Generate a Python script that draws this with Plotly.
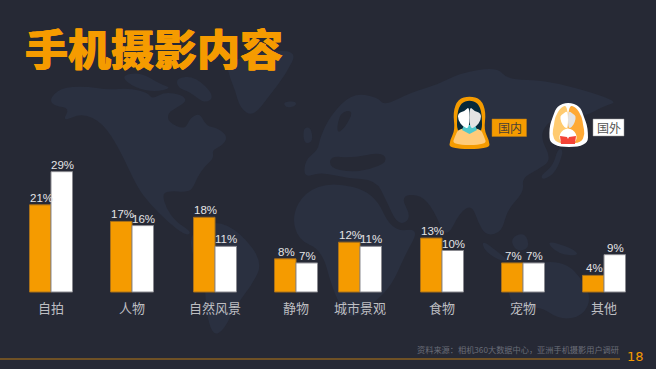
import plotly.graph_objects as go

categories = ["自拍", "人物", "自然风景", "静物", "城市景观", "食物", "宠物", "其他"]
domestic = [21, 17, 18, 8, 12, 13, 7, 4]
foreign = [29, 16, 11, 7, 11, 10, 7, 9]

W, H = 656, 369
BG, LAND = "#262935", "#2a3040"
ORANGE = "#F59B00"
PX_X0, PX_STEP, PX_BASE, PX_PER_UNIT = 51, 79, 292, 4.15
BAR_W = 21.5 / PX_STEP
# The reference's groups are not evenly spaced: per-group nudge in pixels.
nudge_px = [0, 2, 6, 8, -7, -4, -2, 0]
nudge = [n / PX_STEP for n in nudge_px]


def px(x, y):
    return x / W, 1 - y / H


def smooth(points):
    """Closed smooth outline through midpoints, in paper coordinates."""
    pts = [px(*p) for p in points]
    n = len(pts)
    mid = lambda a, b: ((a[0] + b[0]) / 2, (a[1] + b[1]) / 2)
    s = mid(pts[-1], pts[0])
    d = f"M{s[0]:.5f},{s[1]:.5f}"
    for i in range(n):
        m = mid(pts[i], pts[(i + 1) % n])
        d += f" Q{pts[i][0]:.5f},{pts[i][1]:.5f} {m[0]:.5f},{m[1]:.5f}"
    return d + " Z"


def poly(points):
    pts = [px(*p) for p in points]
    return "M" + " L".join(f"{a:.5f},{b:.5f}" for a, b in pts) + " Z"


def shape(d, fill, line=None, lw=0, layer="below"):
    return dict(type="path", xref="paper", yref="paper", path=d, fillcolor=fill,
                line=dict(color=line or fill, width=lw), layer=layer)


land = [
    # North and Central America
    [(49, 100), (60, 88), (85, 86), (108, 90), (130, 88), (148, 93), (152, 99), (165, 92), (182, 95), (187, 101),
     (176, 108), (168, 113), (168, 122), (185, 130), (190, 118), (200, 113), (206, 126), (218, 128), (228, 137),
     (222, 146), (212, 150), (214, 158), (205, 166), (198, 176), (192, 190), (184, 192), (172, 191), (162, 193),
     (166, 208), (176, 222), (192, 232), (186, 236), (168, 222), (150, 204), (137, 187), (120, 150), (103, 123),
     (82, 113), (62, 122), (70, 108), (55, 106)],
    # Greenland
    [(226, 62), (262, 52), (298, 50), (286, 74), (270, 95), (253, 117), (240, 108), (235, 90), (230, 78)],
    # Arctic islands
    [(120, 76), (140, 72), (160, 84), (172, 88), (155, 92), (135, 88)],
    [(176, 78), (195, 76), (215, 96), (205, 104), (190, 92), (178, 88)],
    [(283, 102), (296, 101), (296, 106), (286, 108)],
    # South America
    [(190, 232), (215, 220), (240, 232), (263, 262), (252, 285), (236, 305), (224, 330), (213, 336), (206, 312),
     (205, 280), (192, 256)],
    # Africa
    [(292, 215), (305, 192), (332, 182), (374, 192), (392, 232), (420, 228), (405, 255), (392, 285), (372, 305),
     (348, 322), (332, 288), (322, 250), (298, 240)],
    # Eurasia
    [(320, 138), (330, 116), (352, 93), (378, 97), (384, 106), (412, 92), (437, 85), (460, 73), (497, 67), (508, 80),
     (548, 80), (620, 101), (604, 106), (584, 117), (560, 117), (547, 123), (540, 137), (552, 160), (537, 170),
     (522, 178), (524, 192), (507, 210), (502, 232), (486, 236), (478, 222), (472, 205), (460, 212), (446, 240),
     (434, 210), (420, 194), (400, 196), (412, 218), (398, 226), (386, 200), (376, 180), (346, 178), (320, 172),
     (304, 178), (305, 160), (318, 150)],
    # Britain, Japan, Indonesia, Australia
    [(303, 128), (311, 127), (313, 142), (304, 144)],
    [(558, 148), (564, 150), (556, 172), (544, 180), (540, 176), (553, 166)],
    [(482, 240), (498, 252), (510, 262), (498, 260), (484, 250)],
    [(510, 238), (525, 232), (530, 248), (516, 252)],
    [(545, 240), (572, 248), (580, 256), (558, 254)],
    [(505, 286), (520, 268), (540, 262), (560, 262), (575, 270), (592, 296), (583, 316), (560, 320), (540, 306), (516, 311)],
]
dark_seas = [
    [(340, 112), (354, 110), (345, 128), (336, 134)],
    [(330, 156), (352, 158), (382, 152), (388, 162), (368, 170), (350, 172), (330, 168)],
]

shapes = [shape(smooth(p), LAND) for p in land]
shapes += [shape(smooth(p), BG) for p in dark_seas]

# Footer rule and legend chips
shapes.append(dict(type="line", xref="paper", yref="paper", x0=0, x1=620 / W, y0=1 - 359 / H, y1=1 - 359 / H,
                   line=dict(color="#B87A16", width=1), layer="below"))
for x0, x1, y0, y1, c, lc in [(492, 526.5, 119, 136.5, ORANGE, "#B87A16"), (593, 624, 119, 136, "#FFFFFF", "#999999")]:
    shapes.append(dict(type="rect", xref="paper", yref="paper", x0=x0 / W, x1=x1 / W, y0=1 - y0 / H, y1=1 - y1 / H,
                       fillcolor=c, line=dict(color=lc, width=0.5), layer="above"))

# Domestic woman icon
shapes += [
    shape(smooth([(469.5, 96), (481, 99), (486, 112), (484, 130), (489, 140), (490, 149), (449, 149), (450, 140),
                  (455, 130), (453, 112), (458, 99)]), ORANGE, layer="above"),
    shape(smooth([(469.5, 100), (478, 103), (482, 113), (482, 136), (457, 136), (457, 113), (461, 103)]), "#06293A", layer="above"),
    shape(smooth([(459, 128), (480, 128), (484, 136), (487, 145), (452, 145), (455, 136)]), "#FFCB7A", layer="above"),
    shape(poly([(464, 125), (475, 125), (477, 130), (469.5, 134), (462, 130)]), "#4FC8CC", layer="above"),
    shape(smooth([(469.5, 106), (465, 111), (458, 113), (458, 120), (463, 127), (469.5, 129)]), "#FFFFFF", layer="above"),
    shape(smooth([(469.5, 106), (474, 111), (481, 113), (481, 120), (476, 127), (469.5, 129)]), "#E3E3E3", layer="above"),
]
# Foreign woman icon
shapes += [
    shape(smooth([(568, 102), (580, 106), (584, 117), (588, 128), (588, 147), (550, 147), (549, 128), (553, 116), (557, 106)]), "#FFFFFF", layer="above"),
    shape(smooth([(568, 105), (561, 107), (555, 117), (554, 125), (552, 134), (556, 143), (568, 143)]), "#FFCB70", layer="above"),
    shape(smooth([(568, 105), (576, 107), (582, 117), (583, 125), (585, 134), (581, 143), (568, 143)]), "#FFA934", layer="above"),
    shape(smooth([(560, 144), (559, 133), (568, 127), (577, 133), (576, 144)]), "#FFFFFF", layer="above"),
    shape(poly([(560, 136), (567, 137), (568, 139), (569, 137), (576, 136), (575, 144), (561, 144)]), "#F44336", layer="above"),
    shape(smooth([(568, 110), (563, 114), (560, 116), (561, 122), (564, 127), (568, 129)]), "#FFFFFF", layer="above"),
    shape(smooth([(568, 110), (573, 114), (576, 116), (575, 122), (572, 127), (568, 129)]), "#E3E3E3", layer="above"),
]

CJK = "Noto Sans CJK SC"
def note(text, x, y, size, color, anchor="left", family=CJK, weight=None, shadow=None):
    font = dict(family=family, size=size, color=color, weight=weight)
    if shadow:
        font["shadow"] = shadow
    return dict(text=text, xref="paper", yref="paper", x=x / W, y=1 - y / H, xanchor=anchor, yanchor="middle",
                showarrow=False, font=font)


thick = "0.5px 0 0 #F59B00, -0.5px 0 0 #F59B00"
annotations = [
    note("手机摄影内容", 23, 47, 43, ORANGE, weight=900, shadow=thick),
    note("国内", 509.5, 127.5, 12, "#4a4036", anchor="center"),
    note("国外", 608.5, 127.5, 12, "#555555", anchor="center"),
    note("资料来源：相机360大数据中心，亚洲手机摄影用户调研", 621, 349, 8.2, "#6A6D78", anchor="right"),
    note("18", 625, 356, 13, ORANGE, family="DejaVu Sans"),
]
for c, n in zip(categories, nudge_px):
    annotations.append(dict(text=c, x=c, y=0, xref="x", yref="y", xshift=n, yshift=-15, showarrow=False,
                            xanchor="center", yanchor="middle", font=dict(family=CJK, size=13, color="#BDBEC2")))
# Value labels sit on their bars, at the bar's own data value.
for values, side in [(domestic, -10), (foreign, 11)]:
    for c, v, n in zip(categories, values, nudge_px):
        annotations.append(dict(text=f"{v}%", x=c, y=v, xref="x", yref="y", xshift=n + side, yshift=7, showarrow=False,
                                xanchor="center", yanchor="middle",
                                font=dict(family="Liberation Sans", size=11.5, color="#E4E4E6")))


def bars(name, values, color, line, offsets):
    return go.Bar(name=name, x=categories, y=values, width=BAR_W, offset=offsets,
                  marker=dict(color=color, line=dict(color=line, width=1)), hoverinfo="skip")


fig = go.Figure([
    bars("国内", domestic, ORANGE, "#A8701A", [n - BAR_W for n in nudge]),
    bars("国外", foreign, "#FFFFFF", "#8A8A90", nudge),
])
fig.update_layout(
    width=W, height=H, margin=dict(l=0, r=0, t=0, b=0), autosize=False,
    paper_bgcolor=BG, plot_bgcolor="rgba(0,0,0,0)", showlegend=False, barmode="overlay",
    shapes=shapes, annotations=annotations,
    xaxis=dict(type="category", categoryorder="array", categoryarray=categories,
               range=[-PX_X0 / PX_STEP, (W - PX_X0) / PX_STEP], showgrid=False, zeroline=False,
               showticklabels=False, ticks="", fixedrange=True),
    yaxis=dict(range=[-(H - PX_BASE) / PX_PER_UNIT, PX_BASE / PX_PER_UNIT], showgrid=False, zeroline=False,
               showticklabels=False, ticks="", fixedrange=True),
)
fig.write_html("out.html", config=dict(displayModeBar=False),
               post_script="document.body.style.margin='0';document.documentElement.style.overflow='hidden';")
